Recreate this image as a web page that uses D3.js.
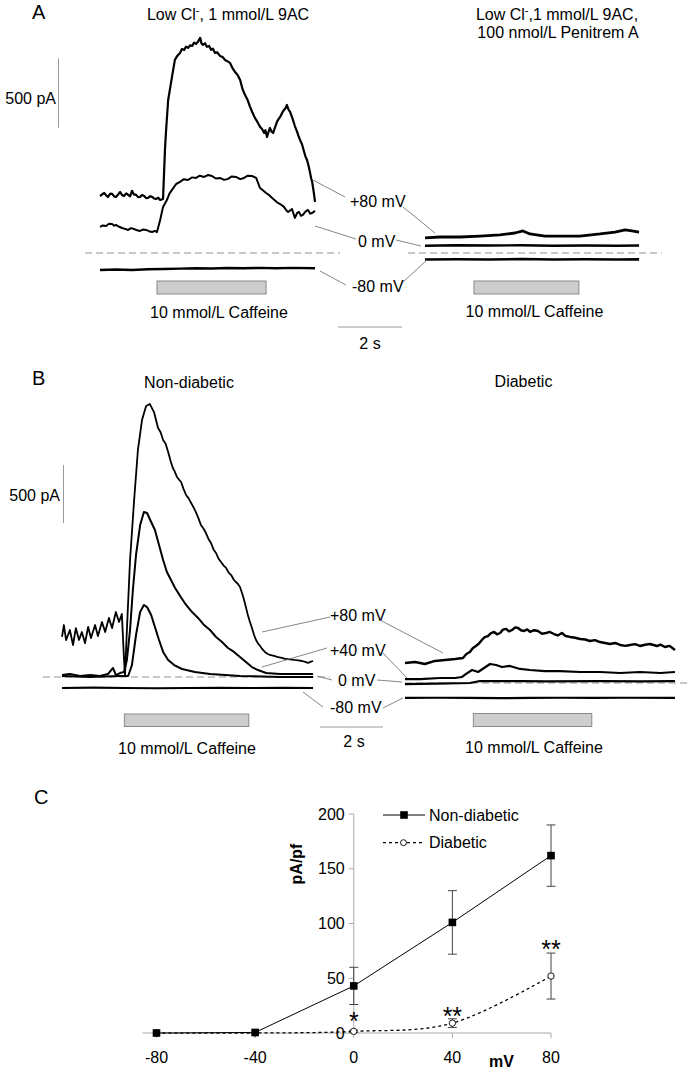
<!DOCTYPE html>
<html><head><meta charset="utf-8">
<script src="https://cdn.jsdelivr.net/npm/d3@7"></script>
<style>body{margin:0;background:#fff}text{font-family:"Liberation Sans",Arial,sans-serif;fill:#000}</style>
</head><body>
<script>
// ---------- Panel A traces: [time s, current pA] ----------
const A_left_p80 = [[0,413],[0.13,435],[0.2,416],[0.25,406],[0.32,430],[0.38,428],[0.44,410],[0.5,406],[0.57,425],[0.63,442],[0.69,420],[0.75,413],[0.82,432],[0.88,421],[0.94,410],[1.0,450],[1.06,425],[1.13,421],[1.19,405],[1.25,406],[1.31,420],[1.38,413],[1.44,398],[1.5,399],[1.57,412],[1.63,406],[1.69,395],[1.75,392],[1.82,400],[1.88,384],[1.97,392],[2.03,747],[2.06,870],[2.13,1109],[2.25,1276],[2.34,1399],[2.42,1430],[2.5,1450],[2.56,1478],[2.63,1472],[2.69,1495],[2.75,1486],[2.82,1505],[2.88,1500],[2.94,1525],[3.0,1515],[3.06,1530],[3.13,1559],[3.17,1520],[3.22,1508],[3.28,1520],[3.34,1494],[3.41,1500],[3.47,1472],[3.53,1480],[3.59,1450],[3.66,1455],[3.75,1428],[3.83,1420],[3.91,1399],[3.98,1390],[4.06,1378],[4.14,1340],[4.22,1312],[4.3,1290],[4.38,1254],[4.45,1190],[4.53,1146],[4.61,1110],[4.69,1059],[4.76,1020],[4.84,979],[4.92,950],[5.0,914],[5.06,900],[5.13,870],[5.17,890],[5.22,841],[5.27,880],[5.31,906],[5.36,880],[5.41,870],[5.47,910],[5.53,950],[5.58,970],[5.63,986],[5.69,1015],[5.75,1037],[5.8,1050],[5.84,1073],[5.89,1040],[5.94,1022],[6.0,985],[6.03,964],[6.09,920],[6.16,877],[6.2,850],[6.25,819],[6.31,790],[6.38,732],[6.42,700],[6.47,674],[6.52,630],[6.56,587],[6.6,540],[6.63,515],[6.68,440],[6.72,370]];
const A_left_0 = [[0,189],[0.09,200],[0.19,196],[0.28,212],[0.38,210],[0.44,198],[0.5,203],[0.6,190],[0.69,181],[0.78,175],[0.88,167],[0.97,180],[1.06,174],[1.16,165],[1.25,160],[1.35,170],[1.44,167],[1.53,158],[1.63,152],[1.7,160],[1.78,152],[1.88,239],[1.97,334],[2.09,384],[2.17,430],[2.25,457],[2.38,500],[2.5,515],[2.62,535],[2.75,529],[2.88,548],[3.0,544],[3.12,560],[3.25,551],[3.38,565],[3.5,558],[3.62,540],[3.75,544],[3.88,530],[4.0,537],[4.12,555],[4.25,551],[4.38,535],[4.5,544],[4.62,560],[4.75,558],[4.88,544],[5.0,471],[5.09,455],[5.19,435],[5.28,420],[5.38,399],[5.47,380],[5.56,363],[5.66,350],[5.75,334],[5.82,310],[5.88,297],[6.0,319],[6.09,254],[6.16,290],[6.22,297],[6.28,270],[6.34,276],[6.42,300],[6.5,312],[6.57,285],[6.63,290],[6.72,305]];
const A_left_m80 = [[0,-123],[0.5,-120],[1,-123],[1.5,-118],[2,-116],[2.5,-113],[3,-110],[3.5,-112],[4,-109],[4.5,-111],[5,-108],[5.5,-110],[6,-108],[6.72,-110]];
const A_right_p80 = [[0,109],[0.47,116],[1.09,116],[1.72,123],[2.34,131],[2.81,145],[3.06,160],[3.28,138],[3.75,123],[4.22,123],[4.84,123],[5.47,138],[5.94,152],[6.25,167],[6.47,160],[6.69,152]];
const A_right_0 = [[0,52],[1,56],[2,54],[3,56],[4,52],[5,54],[6,52],[6.69,54]];
const A_right_m80 = [[0,-47],[1,-45],[2,-47],[3,-44],[4,-47],[5,-45],[6,-47],[6.69,-46]];
// caffeine application windows (s)
const A_caff_left = [1.78, 5.19];
const A_caff_right = [1.53, 4.81];

// ---------- Panel B traces ----------
const B_left_p80 = [[0,345],[0.06,448],[0.13,319],[0.25,405],[0.35,276],[0.44,422],[0.54,319],[0.63,388],[0.73,293],[0.83,431],[0.92,336],[1.05,448],[1.14,353],[1.27,474],[1.37,388],[1.49,509],[1.59,422],[1.71,560],[1.81,474],[1.9,543],[1.97,147],[2.0,17],[2.06,405],[2.16,1009],[2.29,1526],[2.41,1957],[2.54,2215],[2.67,2336],[2.79,2353],[2.92,2284],[3.05,2146],[3.13,2110],[3.21,2043],[3.29,2010],[3.37,1940],[3.45,1860],[3.52,1802],[3.58,1770],[3.65,1724],[3.72,1700],[3.78,1681],[3.86,1620],[3.94,1569],[4.02,1540],[4.1,1500],[4.18,1460],[4.25,1422],[4.33,1370],[4.41,1310],[4.49,1280],[4.57,1241],[4.65,1190],[4.73,1155],[4.81,1100],[4.89,1069],[4.97,1020],[5.05,991],[5.13,960],[5.21,940],[5.29,900],[5.37,879],[5.45,840],[5.52,819],[5.59,800],[5.65,776],[5.72,720],[5.78,664],[5.84,600],[5.9,534],[5.96,480],[6.03,422],[6.1,360],[6.16,319],[6.22,290],[6.29,267],[6.36,240],[6.44,216],[6.52,200],[6.6,190],[6.73,182],[6.86,172],[6.98,165],[7.11,155],[7.24,152],[7.37,147],[7.5,143],[7.62,138],[7.72,130],[7.81,121],[7.9,132],[7.97,138]];
const B_left_p40 = [[0,17],[0.25,26],[0.57,9],[0.89,17],[1.21,9],[1.46,26],[1.62,78],[1.71,17],[1.84,34],[1.97,43],[2.06,147],[2.16,405],[2.25,750],[2.35,1052],[2.48,1310],[2.6,1422],[2.7,1414],[2.83,1336],[2.95,1267],[3.08,1138],[3.21,1009],[3.33,905],[3.46,836],[3.59,767],[3.75,698],[3.94,621],[4.13,560],[4.32,509],[4.51,448],[4.7,405],[4.89,345],[5.08,302],[5.27,250],[5.46,216],[5.65,172],[5.84,129],[6.03,86],[6.22,60],[6.48,34],[6.92,26],[7.43,26],[7.97,26]];
const B_left_0 = [[0,9],[0.89,0],[1.84,9],[2.1,9],[2.22,103],[2.35,362],[2.48,560],[2.6,621],[2.7,603],[2.83,534],[2.95,431],[3.08,319],[3.21,216],[3.37,147],[3.56,103],[3.81,69],[4.22,43],[4.7,26],[5.65,9],[6.92,0],[7.97,0]];
const B_left_m80 = [[0,-95],[1,-92],[2,-95],[3,-97],[4,-95],[5,-93],[6,-95],[7,-93],[7.97,-95]];
const B_right_p80 = [[0,172],[0.32,181],[0.63,164],[0.95,190],[1.27,198],[1.59,207],[1.84,216],[1.95,250],[2.06,267],[2.15,300],[2.25,319],[2.35,340],[2.44,371],[2.53,395],[2.63,405],[2.73,430],[2.83,440],[2.92,420],[3.02,431],[3.11,460],[3.21,466],[3.3,445],[3.4,457],[3.5,480],[3.59,474],[3.68,455],[3.78,448],[3.88,462],[3.97,440],[4.1,455],[4.22,448],[4.35,425],[4.48,431],[4.6,440],[4.73,422],[4.85,410],[4.98,431],[5.1,405],[5.24,397],[5.4,390],[5.56,379],[5.72,375],[5.87,362],[6.03,370],[6.19,353],[6.35,345],[6.51,336],[6.67,345],[6.83,328],[7.0,320],[7.14,328],[7.3,335],[7.46,319],[7.62,330],[7.78,336],[8.0,319],[8.12,330],[8.25,310],[8.4,320],[8.57,284]];
const B_right_p40 = [[0,34],[0.48,34],[1.11,43],[1.59,43],[1.81,52],[1.94,78],[2.13,112],[2.32,95],[2.51,129],[2.7,164],[2.89,155],[3.08,138],[3.33,147],[3.65,121],[3.97,112],[4.44,103],[4.92,103],[5.56,95],[6.19,95],[6.83,86],[7.46,95],[8.1,86],[8.57,95]];
const B_right_0 = [[0,-9],[1,-5],[2.06,0],[2.38,17],[3.65,17],[4.5,14],[6.19,17],[7.5,14],[8.57,17]];
const B_right_m80 = [[0,-129],[1,-127],[2,-129],[3,-131],[4,-129],[5,-127],[6,-129],[7,-127],[8.57,-129]];
const B_caff_left = [1.98, 5.93];
const B_caff_right = [2.17, 5.93];

// ---------- Panel C: I-V relationship ----------
const voltages = [-80, -40, 0, 40, 80];
const nonDiabetic = [0, 0.5, 43, 101, 162];
const nonDiabeticErr = [0, 0, 17, 29, 28];
const diabetic = [0, 0, 1.5, 9, 52];
const diabeticErr = [0, 0, 1, 4, 21];
const signif = ["", "", "*", "**", "**"];
const xTicksC = [-80, -40, 0, 40, 80];
const yTicksC = [0, 50, 100, 150, 200];

const svg = d3.select("body").append("svg").attr("width", 696).attr("height", 1072);
const FS = 16;

function txt(x, y, s, opt = {}) {
  const t = svg.append("text").attr("x", x).attr("y", y)
    .attr("font-size", opt.size || FS)
    .attr("text-anchor", opt.anchor || "start")
    .attr("font-weight", opt.bold ? "bold" : "normal");
  if (opt.rotate) t.attr("transform", `rotate(${opt.rotate},${x},${y})`);
  t.text(s);
  return t;
}
function seg(x1, y1, x2, y2, color = "#777", w = 0.9, dash = null) {
  const l = svg.append("line").attr("x1", x1).attr("y1", y1).attr("x2", x2).attr("y2", y2)
    .attr("stroke", color).attr("stroke-width", w);
  if (dash) l.attr("stroke-dasharray", dash);
  return l;
}
function trace(data, xs, ys, w = 1.6) {
  svg.append("path").datum(data)
    .attr("d", d3.line().x(d => xs(d[0])).y(d => ys(d[1])))
    .attr("fill", "none").attr("stroke", "#000").attr("stroke-width", w)
    .attr("stroke-linejoin", "round");
}
function caff(win, xs, y0, h) {
  svg.append("rect").attr("x", xs(win[0])).attr("y", y0)
    .attr("width", xs(win[1]) - xs(win[0])).attr("height", h)
    .attr("fill", "#cdcdcd").attr("stroke", "#8a8a8a").attr("stroke-width", 1);
}

// ================= Panel A =================
const yA = d3.scaleLinear().domain([0, 500]).range([253, 184]);
const xAL = d3.scaleLinear().domain([0, 2]).range([100, 164]);
const xAR = d3.scaleLinear().domain([0, 2]).range([425, 489]);
const xAbar = d3.scaleLinear().domain([0, 2]).range([338, 402]);

txt(32, 19, "A", {size: 20});
const tA = txt(228, 20, "", {anchor: "middle"});
tA.append("tspan").text("Low Cl");
tA.append("tspan").attr("font-size", 11).attr("dy", -6).text("-");
tA.append("tspan").attr("dy", 6).text(", 1 mmol/L 9AC");
const tA2 = txt(557, 20, "", {anchor: "middle"});
tA2.append("tspan").text("Low Cl");
tA2.append("tspan").attr("font-size", 11).attr("dy", -6).text("-");
tA2.append("tspan").attr("dy", 6).text(",1 mmol/L 9AC,");
txt(558, 38, "100 nmol/L Penitrem A", {anchor: "middle"});

// 500 pA scale bar
const yAbar = d3.scaleLinear().domain([0, 500]).range([127.7, 58.3]);
seg(58.5, yAbar(0), 58.5, yAbar(500), "#999", 1);
txt(56, 104, "500 pA", {anchor: "end"});

// zero lines
seg(85, yA(0), 340, yA(0), "#888", 0.9, "7,4");
seg(408, yA(0), 662, yA(0), "#888", 0.9, "7,4");

trace(A_left_m80, xAL, yA, 2.4);
trace(A_left_0, xAL, yA, 2);
trace(A_left_p80, xAL, yA, 2.2);
trace(A_right_m80, xAR, yA, 2.6);
trace(A_right_0, xAR, yA, 2.4);
trace(A_right_p80, xAR, yA, 2.8);

caff(A_caff_left, xAL, 281, 13);
caff(A_caff_right, xAR, 281, 13);
txt(219, 318, "10 mmol/L Caffeine", {anchor: "middle"});
txt(534.5, 317, "10 mmol/L Caffeine", {anchor: "middle"});

// 2 s bar
seg(xAbar(0), 327, xAbar(2), 327, "#999", 1);
txt(370, 349, "2 s", {anchor: "middle"});

// labels
txt(350, 207, "+80 mV");
txt(358, 247, "0 mV");
txt(352, 292, "-80 mV");
seg(313, 180, 345, 197);
seg(315, 226, 356, 239);
seg(320, 271, 346, 285);
seg(403, 207, 435, 233);
seg(396, 240, 421, 246);
seg(403, 282, 427, 260);

// ================= Panel B =================
const yBL = d3.scaleLinear().domain([0, 500]).range([677, 619]);
const yBR = d3.scaleLinear().domain([0, 500]).range([683, 625]);
const xBL = d3.scaleLinear().domain([0, 2]).range([62, 125]);
const xBR = d3.scaleLinear().domain([0, 2]).range([405, 468]);
const xBbar = d3.scaleLinear().domain([0, 2]).range([320, 383]);
const yBbar = d3.scaleLinear().domain([0, 500]).range([523, 465]);

txt(32, 385, "B", {size: 20});
txt(189, 388, "Non-diabetic", {anchor: "middle"});
txt(523.5, 387, "Diabetic", {anchor: "middle"});

seg(63.5, yBbar(0), 63.5, yBbar(500), "#999", 1);
txt(60, 501, "500 pA", {anchor: "end"});

seg(43, yBL(0), 330, yBL(0), "#888", 0.9, "7,4");
seg(405, yBR(0), 690, yBR(0), "#888", 0.9, "7,4");

trace(B_left_m80, xBL, yBL, 2.2);
trace(B_left_0, xBL, yBL, 2);
trace(B_left_p40, xBL, yBL, 2);
trace(B_left_p80, xBL, yBL, 1.8);
trace(B_right_m80, xBR, yBR, 2.2);
trace(B_right_0, xBR, yBR, 2.2);
trace(B_right_p40, xBR, yBR, 2.2);
trace(B_right_p80, xBR, yBR, 2.4);

caff(B_caff_left, xBL, 714, 12.5);
caff(B_caff_right, xBR, 713.5, 13);
txt(187, 754, "10 mmol/L Caffeine", {anchor: "middle"});
txt(534, 753, "10 mmol/L Caffeine", {anchor: "middle"});

seg(xBbar(0), 727, xBbar(2), 727, "#999", 1);
txt(354, 747, "2 s", {anchor: "middle"});

txt(330, 621, "+80 mV");
txt(330, 656, "+40 mV");
txt(338, 686, "0 mV");
txt(330, 713, "-80 mV");
seg(262, 632, 330, 617);
seg(380, 620, 443, 653);
seg(262, 667, 327, 648);
seg(383, 653, 407, 678);
seg(317, 676, 332, 680);
seg(377, 680, 402, 682);
seg(303, 692, 323, 707);
seg(383, 708, 403, 698);

// ================= Panel C =================
const xC = d3.scaleLinear().domain([-80, 80]).range([156.5, 551]);
const yC = d3.scaleLinear().domain([0, 200]).range([1033, 814]);

txt(34, 804, "C", {size: 20});

// axes
seg(xC(-80) - 14, yC(0), xC(80), yC(0), "#aaa", 1);
seg(xC(0), yC(0), xC(0), yC(200), "#aaa", 1);
yTicksC.forEach(v => {
  seg(xC(0) - 5, yC(v), xC(0), yC(v), "#aaa", 1);
  txt(xC(0) - 9, yC(v) + 5.7, String(v), {anchor: "end"});
});
xTicksC.forEach(v => {
  seg(xC(v), yC(0), xC(v), yC(0) + 5, "#aaa", 1);
  txt(xC(v), 1063, String(v), {anchor: "middle"});
});
txt(501.5, 1067, "mV", {anchor: "middle", bold: true});
txt(302, 864, "pA/pf", {anchor: "middle", bold: true, rotate: -90});

const ptsN = voltages.map((v, i) => [v, nonDiabetic[i], nonDiabeticErr[i]]);
const ptsD = voltages.map((v, i) => [v, diabetic[i], diabeticErr[i]]);
const lineN = d3.line().x(d => xC(d[0])).y(d => yC(d[1]));
const lineD = d3.line().x(d => xC(d[0])).y(d => yC(d[1])).curve(d3.curveCatmullRom.alpha(0));

// error bars
function errBars(pts) {
  pts.filter(d => d[2] > 0).forEach(d => {
    const x = xC(d[0]);
    seg(x, yC(d[1] - d[2]), x, yC(d[1] + d[2]), "#444", 1);
    seg(x - 4.5, yC(d[1] + d[2]), x + 4.5, yC(d[1] + d[2]), "#444", 1);
    seg(x - 4.5, yC(d[1] - d[2]), x + 4.5, yC(d[1] - d[2]), "#444", 1);
  });
}
errBars(ptsN);
errBars(ptsD);

svg.append("path").datum(ptsN).attr("d", lineN).attr("fill", "none").attr("stroke", "#000").attr("stroke-width", 1);
svg.append("path").datum(ptsD).attr("d", lineD).attr("fill", "none").attr("stroke", "#000")
  .attr("stroke-width", 1.3).attr("stroke-dasharray", "3,3");

svg.selectAll(".ci").data(ptsD).enter().append("circle")
  .attr("cx", d => xC(d[0])).attr("cy", d => yC(d[1])).attr("r", 3.2)
  .attr("fill", "#fff").attr("stroke", "#000").attr("stroke-width", 0.9);
svg.selectAll(".sq").data(ptsN).enter().append("rect")
  .attr("x", d => xC(d[0]) - 3.8).attr("y", d => yC(d[1]) - 3.8)
  .attr("width", 7.6).attr("height", 7.6).attr("fill", "#000");

// significance stars
const starBase = [0, 0, 1030, 1025, 958];
voltages.forEach((v, i) => {
  if (signif[i]) txt(xC(v), starBase[i], signif[i], {anchor: "middle", size: 25});
});

// legend
seg(383, 815, 425, 815, "#000", 1);
svg.append("rect").attr("x", 400.2).attr("y", 811.2).attr("width", 7.6).attr("height", 7.6).attr("fill", "#000");
txt(429, 820.7, "Non-diabetic");
seg(383, 842.7, 425, 842.7, "#000", 1.3, "3,3");
svg.append("circle").attr("cx", 403.5).attr("cy", 842.7).attr("r", 3).attr("fill", "#fff").attr("stroke", "#000").attr("stroke-width", 0.9);
txt(429, 847.7, "Diabetic");
</script>
</body></html>
